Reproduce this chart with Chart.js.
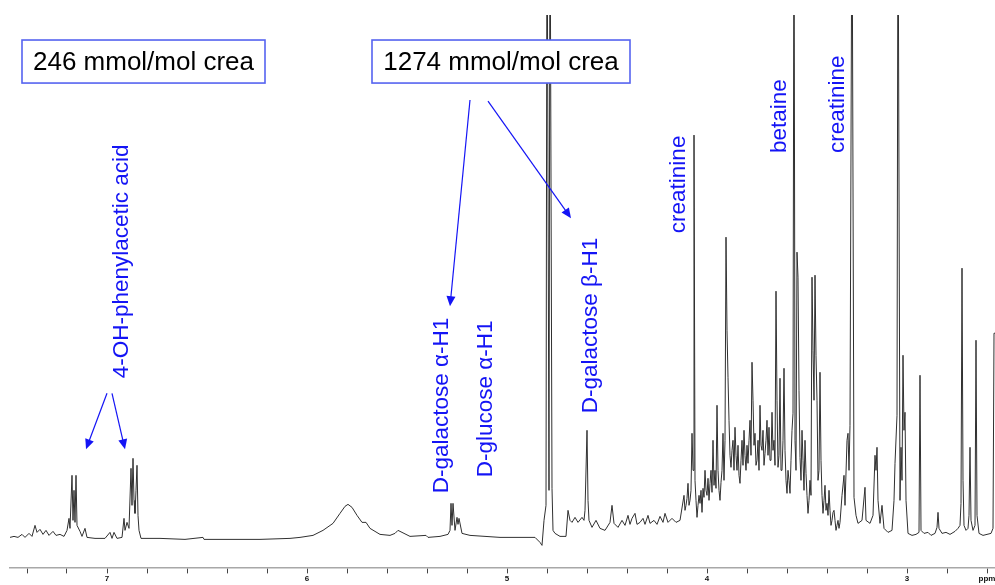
<!DOCTYPE html>
<html>
<head>
<meta charset="utf-8">
<script src="https://cdn.jsdelivr.net/npm/chart.js@4.4.1/dist/chart.umd.min.js"></script>
<style>
  html, body { margin: 0; padding: 0; background: #fff; }
  #wrap { width: 995px; height: 585px; position: relative; }
</style>
</head>
<body>
<div id="wrap"><canvas id="nmr"></canvas></div>
<script>
// 1H NMR spectrum of urine, chemical shift in ppm, intensity in arbitrary units.

// aromatic region
var aromaticPpm = [
  7.485, 7.465, 7.445, 7.425, 7.41, 7.39, 7.375, 7.36, 7.35, 7.335, 7.32, 7.305, 7.29, 7.27, 7.255, 7.235,
  7.215, 7.2, 7.19, 7.185, 7.175, 7.17, 7.165, 7.16, 7.155, 7.15, 7.135, 7.125, 7.11, 7.1, 7.06, 7.01,
  6.985, 6.975, 6.965, 6.95, 6.925, 6.915, 6.91, 6.9, 6.89, 6.88, 6.875, 6.87, 6.865, 6.86, 6.855, 6.85,
  6.845, 6.84, 6.83
];
var aromaticInt = [
  30, 31, 30, 33, 30, 34, 31, 42, 35, 38, 33, 37, 32, 36, 32, 33,
  31, 37, 49, 39, 92, 47, 77, 45, 92, 42, 36, 31, 39, 30, 29, 29,
  35, 29, 35, 29, 30, 49, 37, 45, 39, 99, 62, 109, 67, 54, 77, 102,
  52, 37, 29
];

// urea hump, anomeric protons and water
var anomericPpm = [
  6.735, 6.61, 6.52, 6.515, 6.385, 6.235, 6.085, 6.035, 5.97, 5.92, 5.87, 5.835, 5.81, 5.795, 5.775, 5.75,
  5.725, 5.705, 5.685, 5.635, 5.585, 5.56, 5.545, 5.525, 5.485, 5.405, 5.395, 5.335, 5.295, 5.285, 5.28, 5.275,
  5.27, 5.26, 5.25, 5.245, 5.24, 5.225, 5.185, 5.11, 5.035, 4.935, 4.86, 4.835, 4.825, 4.815, 4.805, 4.8,
  4.79, 4.785, 4.775, 4.77, 4.76, 4.735, 4.705, 4.695, 4.685, 4.675, 4.66, 4.645, 4.625, 4.615, 4.61, 4.6,
  4.595, 4.59, 4.575, 4.555, 4.535, 4.51, 4.485, 4.475, 4.465, 4.445, 4.425, 4.41, 4.395, 4.385, 4.375, 4.36,
  4.35, 4.335, 4.32, 4.31, 4.295, 4.285, 4.265, 4.25, 4.235, 4.22, 4.21, 4.195, 4.175, 4.155, 4.135
];
var anomericInt = [
  29, 28, 30, 28, 28, 28, 29, 30, 32, 37, 44, 54, 61, 63, 60, 52,
  45, 45, 39, 33, 32, 34, 37, 35, 31, 32, 30, 31, 33, 37, 64, 42,
  64, 37, 50, 43, 49, 34, 32, 31, 30, 30, 30, 25, 22, 47, 62, 700,
  77, 700, 79, 37, 34, 31, 31, 57, 47, 45, 50, 45, 50, 47, 57, 137,
  67, 47, 40, 47, 39, 37, 45, 62, 44, 40, 47, 42, 52, 43, 49, 54,
  43, 45, 49, 43, 52, 44, 47, 43, 51, 45, 54, 45, 49, 45, 47
];

// crowded sugar / amino acid region
var crowdedPpm = [
  4.115, 4.11, 4.105, 4.1, 4.095, 4.09, 4.085, 4.08, 4.075, 4.07, 4.065, 4.06, 4.055, 4.05, 4.045, 4.04,
  4.035, 4.03, 4.025, 4.02, 4.015, 4.01, 4.005, 4.0, 3.995, 3.99, 3.985, 3.98, 3.975, 3.97, 3.965, 3.96,
  3.955, 3.95, 3.945, 3.94, 3.935, 3.93, 3.925, 3.92, 3.915, 3.91, 3.905, 3.9, 3.895, 3.89, 3.885, 3.88,
  3.875, 3.87, 3.865, 3.86, 3.855, 3.85, 3.845, 3.84, 3.835, 3.83, 3.825, 3.82, 3.815, 3.81, 3.805, 3.8,
  3.795, 3.79, 3.785, 3.78, 3.775, 3.77, 3.765, 3.76, 3.755, 3.75, 3.745, 3.74, 3.735, 3.73, 3.725, 3.72,
  3.715, 3.71, 3.705, 3.7, 3.695, 3.69, 3.685, 3.68, 3.675, 3.67, 3.665, 3.66, 3.655, 3.65, 3.645, 3.64,
  3.635, 3.63, 3.625, 3.62, 3.615, 3.61, 3.605, 3.6, 3.595, 3.59, 3.585, 3.58, 3.575, 3.57, 3.565, 3.56,
  3.555, 3.55, 3.545, 3.54, 3.535, 3.53, 3.525, 3.52, 3.515, 3.51, 3.505, 3.5, 3.495, 3.49, 3.485, 3.48,
  3.475, 3.47, 3.465, 3.46, 3.455, 3.45, 3.445, 3.44, 3.435, 3.43, 3.425, 3.42, 3.415, 3.41, 3.405, 3.4,
  3.395, 3.39, 3.385, 3.38, 3.375, 3.37, 3.365, 3.36, 3.355, 3.35, 3.345, 3.34, 3.335
];
var crowdedInt = [
  72, 57, 62, 69, 84, 62, 67, 77, 134, 97, 432, 87, 67, 50, 62, 72,
  64, 77, 55, 79, 70, 97, 77, 72, 89, 67, 84, 97, 75, 127, 82, 97,
  79, 162, 97, 77, 67, 85, 97, 134, 87, 127, 330, 237, 190, 147, 112, 100,
  117, 127, 97, 140, 112, 97, 122, 92, 84, 107, 127, 102, 137, 112, 97, 122,
  104, 127, 147, 112, 205, 167, 122, 134, 102, 107, 127, 97, 162, 122, 117, 137,
  102, 114, 127, 147, 112, 140, 107, 107, 155, 117, 127, 102, 276, 167, 100, 112,
  189, 97, 97, 127, 199, 117, 87, 74, 97, 87, 74, 107, 137, 154, 700, 127,
  97, 315, 290, 177, 110, 87, 137, 107, 77, 127, 94, 72, 54, 67, 87, 72,
  290, 217, 167, 292, 212, 167, 87, 97, 195, 107, 72, 54, 67, 82, 57, 64,
  52, 77, 57, 42, 47, 55, 57, 47, 37, 42, 47, 39, 45
];

// high field singlets
var highFieldPpm = [
  3.325, 3.315, 3.31, 3.3, 3.295, 3.29, 3.285, 3.275, 3.265, 3.255, 3.245, 3.225, 3.21, 3.205, 3.185, 3.17,
  3.16, 3.155, 3.15, 3.145, 3.135, 3.125, 3.115, 3.095, 3.075, 3.065, 3.06, 3.05, 3.045, 3.035, 3.03, 3.025,
  3.02, 3.015, 3.01, 3.005, 2.995, 2.975, 2.955, 2.94, 2.935, 2.93, 2.915, 2.895, 2.88, 2.86, 2.85, 2.845,
  2.84, 2.825, 2.805, 2.785, 2.76, 2.745, 2.735, 2.73, 2.725, 2.72, 2.715, 2.705, 2.695, 2.69, 2.685, 2.68,
  2.67, 2.66, 2.655, 2.65, 2.64, 2.62, 2.6, 2.58, 2.57, 2.565, 2.56
];
var highFieldInt = [
  72, 92, 62, 127, 134, 97, 142, 700, 70, 52, 44, 47, 80, 47, 44, 52,
  112, 97, 120, 67, 44, 62, 39, 35, 37, 67, 104, 152, 700, 67, 120, 87,
  212, 137, 155, 67, 34, 32, 33, 35, 192, 37, 34, 35, 32, 34, 40, 55,
  39, 34, 35, 33, 36, 39, 42, 64, 299, 87, 42, 37, 39, 52, 120, 47,
  37, 42, 227, 52, 34, 32, 33, 34, 39, 234, 234
];

// axis ticks every 0.2 ppm, numbered on whole ppm
var axisTicks = [2.6, 2.8, 3.0, 3.2, 3.4, 3.6, 3.8, 4.0, 4.2, 4.4, 4.6, 4.8, 5.0, 5.2, 5.4, 5.6,
  5.8, 6.0, 6.2, 6.4, 6.6, 6.8, 7.0, 7.2, 7.4];
var numberedTicks = [3, 4, 5, 6, 7];
var unitTick = 2.6;
var unitLabel = 'ppm';

var boxTexts = ['246 mmol/mol crea', '1274 mmol/mol crea'];
var peakNames = ['4-OH-phenylacetic acid', 'D-galactose \u03b1-H1', 'D-glucose \u03b1-H1',
  'D-galactose \u03b2-H1', 'creatinine', 'betaine', 'creatinine'];

// annotation anchors, in ppm / intensity units
var boxes = [
  { text: 0, x1: 7.425, x2: 6.21, top: 527, bottom: 484 },
  { text: 1, x1: 5.675, x2: 4.385, top: 527, bottom: 484 }
];
var peakLabelAt = [
  { name: 0, x: 6.895, y: 189 },
  { name: 1, x: 5.295, y: 74 },
  { name: 2, x: 5.075, y: 90 },
  { name: 3, x: 4.55, y: 154 },
  { name: 4, x: 4.11, y: 334 },
  { name: 5, x: 3.605, y: 414 },
  { name: 6, x: 3.315, y: 414 }
];
var arrows = [
  { x1: 7.0, y1: 174, x2: 7.105, y2: 118 },
  { x1: 6.975, y1: 174, x2: 6.91, y2: 118 },
  { x1: 5.185, y1: 467, x2: 5.285, y2: 261 },
  { x1: 5.095, y1: 466, x2: 4.68, y2: 349 }
];

var BLUE = '#1414f5';
var FONT = '"Liberation Sans", Arial, sans-serif';

function drawArrow(ctx, x1, y1, x2, y2) {
  var a = Math.atan2(y2 - y1, x2 - x1);
  var head = 10, half = 4.5;
  ctx.beginPath();
  ctx.moveTo(x1, y1);
  ctx.lineTo(x2 - Math.cos(a) * head * 0.8, y2 - Math.sin(a) * head * 0.8);
  ctx.stroke();
  ctx.beginPath();
  ctx.moveTo(x2, y2);
  ctx.lineTo(x2 - Math.cos(a) * head - Math.sin(a) * half, y2 - Math.sin(a) * head + Math.cos(a) * half);
  ctx.lineTo(x2 - Math.cos(a) * head + Math.sin(a) * half, y2 - Math.sin(a) * head - Math.cos(a) * half);
  ctx.closePath();
  ctx.fill();
}

var annotationPlugin = {
  id: 'annotations',
  afterDraw: function (chart) {
    var ctx = chart.ctx;
    var xs = chart.scales.x, ys = chart.scales.y;
    var px = function (v) { return xs.getPixelForValue(v); };
    var py = function (v) { return ys.getPixelForValue(v); };
    ctx.save();

    // boxed concentrations
    boxes.forEach(function (b) {
      var l = px(b.x1), r = px(b.x2), t = py(b.top), btm = py(b.bottom);
      ctx.fillStyle = '#fff';
      ctx.fillRect(l, t, r - l, btm - t);
      ctx.strokeStyle = '#5563f0';
      ctx.lineWidth = 1.6;
      ctx.strokeRect(l, t, r - l, btm - t);
      ctx.fillStyle = '#000';
      ctx.font = '26px ' + FONT;
      ctx.textAlign = 'center';
      ctx.textBaseline = 'middle';
      ctx.fillText(boxTexts[b.text], (l + r) / 2, (t + btm) / 2 + 1);
    });

    // rotated peak names
    ctx.fillStyle = BLUE;
    ctx.font = '22.5px ' + FONT;
    ctx.textAlign = 'left';
    ctx.textBaseline = 'alphabetic';
    peakLabelAt.forEach(function (p) {
      ctx.save();
      ctx.translate(px(p.x), py(p.y));
      ctx.rotate(-Math.PI / 2);
      ctx.fillText(peakNames[p.name], 0, 0);
      ctx.restore();
    });

    // arrows
    ctx.strokeStyle = BLUE;
    ctx.fillStyle = BLUE;
    ctx.lineWidth = 1.2;
    arrows.forEach(function (a) {
      drawArrow(ctx, px(a.x1), py(a.y1), px(a.x2), py(a.y2));
    });
    ctx.restore();
  }
};

var shiftPpm = aromaticPpm.concat(anomericPpm, crowdedPpm, highFieldPpm);
var intensity = aromaticInt.concat(anomericInt, crowdedInt, highFieldInt);
var points = shiftPpm.map(function (v, i) { return { x: v, y: intensity[i] }; });

new Chart(document.getElementById('nmr'), {
  type: 'line',
  data: {
    datasets: [{
      data: points,
      borderColor: '#303030',
      borderWidth: 1,
      pointRadius: 0,
      tension: 0,
      fill: false
    }]
  },
  options: {
    responsive: true,
    maintainAspectRatio: false,
    animation: false,
    layout: { padding: { left: 10, right: 0, top: 15, bottom: 0 } },
    plugins: { legend: { display: false }, tooltip: { enabled: false } },
    scales: {
      x: {
        type: 'linear',
        reverse: true,
        min: 2.56,
        max: 7.485,
        afterBuildTicks: function (scale) {
          scale.ticks = axisTicks.map(function (v) { return { value: v }; });
        },
        border: { display: true, color: '#a8a8a8', width: 1.5 },
        grid: { drawOnChartArea: false, drawTicks: true, tickLength: 6, color: '#444', lineWidth: 1 },
        ticks: {
          autoSkip: false,
          maxRotation: 0,
          padding: 1,
          color: '#111',
          font: { family: FONT, size: 8, weight: 'bold' },
          callback: function (value) {
            if (Math.abs(value - unitTick) < 1e-6) return unitLabel;
            for (var i = 0; i < numberedTicks.length; i++) {
              if (Math.abs(value - numberedTicks[i]) < 1e-6) return String(numberedTicks[i]);
            }
            return '';
          }
        }
      },
      y: {
        display: false,
        min: 0,
        max: 552
      }
    }
  },
  plugins: [annotationPlugin]
});
</script>
</body>
</html>
